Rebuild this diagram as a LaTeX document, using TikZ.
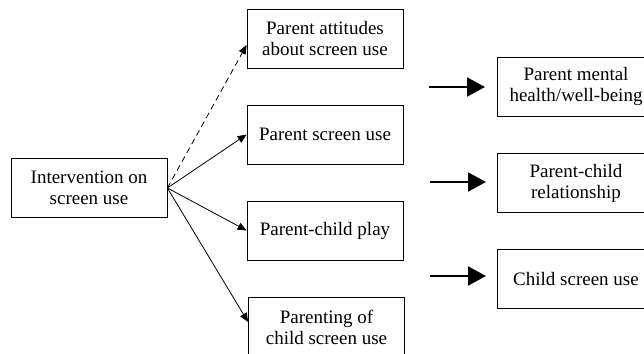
\documentclass[tikz,border=0pt]{standalone}
\usepackage{fontspec}
\setmainfont{Liberation Serif}
\usetikzlibrary{arrows.meta}
\tikzset{
  box/.style={draw, line width=0.8pt, minimum width=156pt, minimum height=59pt, inner sep=0pt, align=center, font=\fontsize{19}{21}\selectfont},
  rbox/.style={box, minimum width=158pt},
  thin/.style={line width=0.8pt, -{Triangle[length=9pt,width=7.5pt]}},
  dashline/.style={dash pattern=on 6pt off 4pt},
  thick/.style={line width=2pt, -{Triangle[length=18pt,width=19pt]}}
}
\begin{document}
\begin{tikzpicture}[x=1pt,y=-1pt]
\useasboundingbox (0,0) rectangle (644,353);
\clip (0,0) rectangle (644,353);
\node[box] (int) at (89,188) {Intervention on\\screen use};
\node[box] (att) at (325,39) {Parent attitudes\\about screen use};
\node[box] (psu) at (325,134.5) {Parent screen use};
\node[box] (pcp) at (325,230.5) {Parent-child play};
\node[box] (par) at (326.5,327) {Parenting of\\child screen use};
\node[rbox] (pmh) at (576,86.5) {Parent mental\\health/well-being};
\node[rbox] (pcr) at (576,183) {Parent-child\\relationship};
\node[rbox] (csu) at (576,278.5) {Child screen use};
\coordinate (a1s) at (429,87);
\coordinate (a1e) at (485,87);
\coordinate (a2s) at (430,182);
\coordinate (a2e) at (486,182);
\coordinate (a3s) at (430,276);
\coordinate (a3e) at (486,276);
\draw[thin, dashline] (int.east) -- ([yshift=-6pt]att.west);
\draw[thin] (int.east) -- (psu.west);
\draw[thin] (int.east) -- (pcp.west);
\draw[thin] (int.east) -- ([yshift=5pt]par.west);
\draw[thick] (a1s) -- (a1e);
\draw[thick] (a2s) -- (a2e);
\draw[thick] (a3s) -- (a3e);
\end{tikzpicture}
\end{document}
